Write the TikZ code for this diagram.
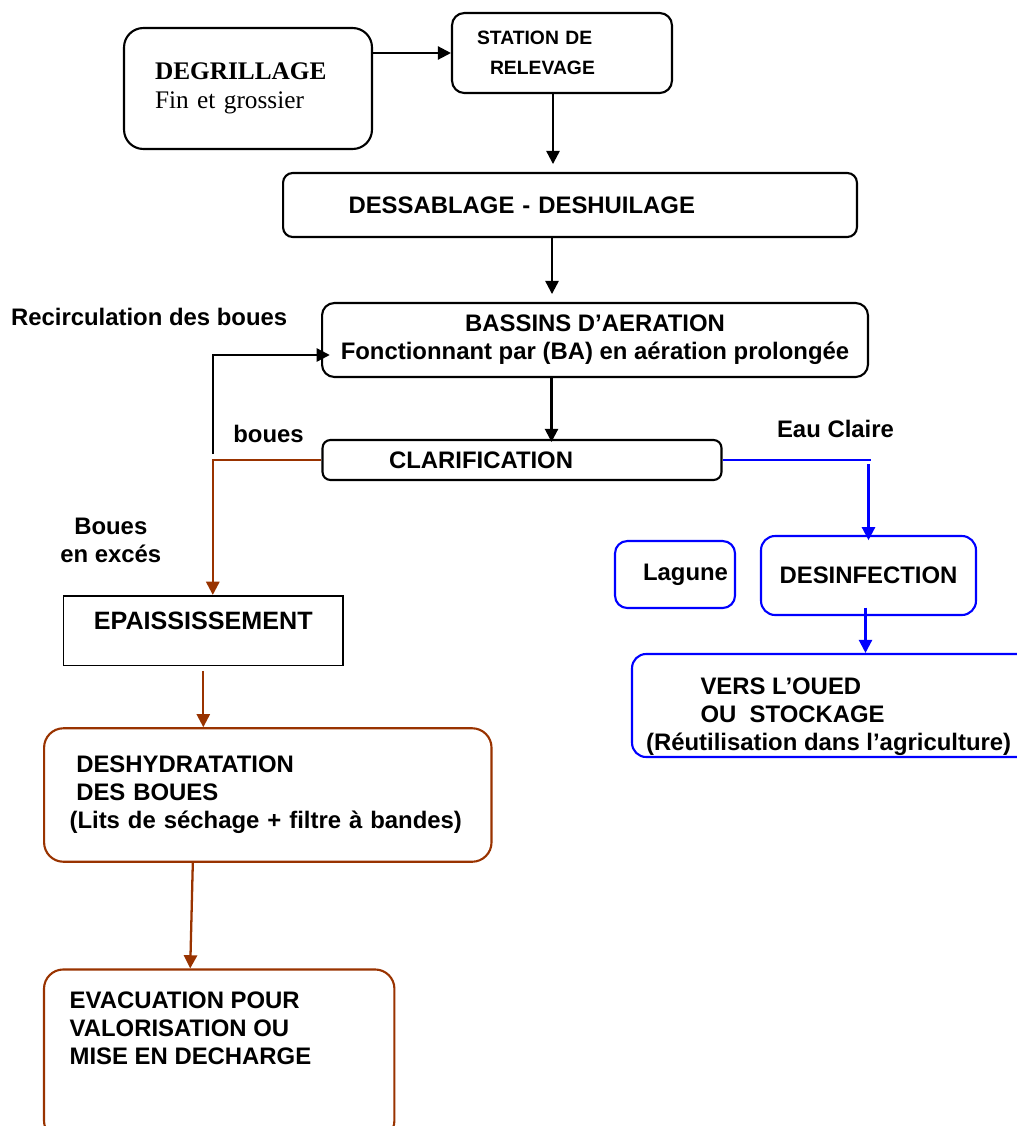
\documentclass[tikz,border=0pt]{standalone}
\usepackage{fontspec}
\setmainfont{Liberation Sans}
\newfontfamily\timesfont{Liberation Serif}
\usetikzlibrary{positioning,calc,arrows.meta}
\definecolor{boue}{RGB}{153,51,0}
\definecolor{eau}{RGB}{0,0,255}

\begin{document}
\begin{tikzpicture}[
x=0.02cm, y=-0.02cm,
txt/.style={
  font=\bfseries\fontsize{13.6}{16}\selectfont
  },
box/.style={
  txt,
  draw,
  line width=1.2pt,
  rounded corners=7pt,
  inner ysep=0pt
  },
tag/.style={
  txt,
  inner sep=0pt
  },
arr/.style={
  ->,
  line width=1.3pt
  },
>={Triangle[length=7.5pt,width=7.5pt]}
]
\useasboundingbox (0,0) rectangle (1017,1126);
\clip (0,0) rectangle (1017,1126);

% filiere eau
\node[box, rounded corners=11pt, minimum width=4.96cm, minimum height=2.42cm,
  inner xsep=0.62cm, text width=3.72cm, align=left,
  font=\timesfont\fontsize{14.4}{16.4}\selectfont] (degr) at (248,88.5)
  {\textbf{DEGRILLAGE}\\Fin et grossier};
\node[box, minimum width=4.4cm, minimum height=1.6cm, inner xsep=0.5cm,
  text width=3.4cm, align=left, font=\bfseries\fontsize{11}{17}\selectfont] (stat) at (562,53)
  {STATION DE\\\hspace*{7.4pt}RELEVAGE};
\node[box, rounded corners=5.5pt, minimum width=11.48cm, minimum height=1.28cm,
  inner xsep=1.31cm, text width=8.86cm, align=left] (dess) at (570,205)
  {DESSABLAGE - DESHUILAGE};
\node[box, minimum width=10.92cm, minimum height=1.48cm, align=center] (bass) at (595,340)
  {BASSINS D’AERATION\\Fonctionnant par (BA) en aération prolongée};
\node[box, rounded corners=4.5pt, minimum width=7.98cm, minimum height=0.8cm,
  inner xsep=1.33cm, text width=5.32cm, align=left] (clar) at (522,460)
  {CLARIFICATION};

% filiere boues
\node[box, sharp corners, line width=0.9pt, minimum width=5.6cm, minimum height=1.4cm,
  text depth=11pt, font=\bfseries\fontsize{14.3}{16}\selectfont] (epai) at (203.3,630.7)
  {EPAISSISSEMENT};
\node[box, draw=boue, rounded corners=11pt, minimum width=8.95cm, minimum height=2.67cm,
  inner xsep=0.51cm, text width=7.93cm, align=left] (desh) at (267.8,795)
  {\hspace*{3.8pt}DESHYDRATATION\\\hspace*{3.8pt}DES BOUES\\(Lits de séchage + filtre à bandes)};
\node[box, draw=boue, rounded corners=11pt, minimum width=7.01cm, minimum height=3.41cm]
  (evac) at (219.2,1054.7) {};
\node[tag, anchor=north west, align=left] (evactxt) at (69.3,991.7)
  {EVACUATION POUR\\VALORISATION OU\\MISE EN DECHARGE};

% eau claire
\node[box, draw=eau, minimum width=2.4cm, minimum height=1.34cm,
  inner xsep=0.14cm, text width=2.12cm, align=right] (lag) at (675,574.5) {Lagune};
\node[box, draw=eau, rounded corners=8pt, minimum width=4.3cm, minimum height=1.58cm]
  (desi) at (868.5,575.5) {DESINFECTION};
\node[box, draw=eau, rounded corners=8pt, minimum width=8cm, minimum height=2.06cm]
  (vers) at (832,705.5) {};
\node[tag, anchor=north west, align=left] (verstxt) at (645.7,677.7)
  {\hspace*{31pt}VERS L’OUED\\\hspace*{31pt}OU\ \ STOCKAGE\\(Réutilisation dans l’agriculture)};

% textes libres
\node[tag, anchor=base west] (recirc) at (10.7,325.7) {Recirculation des boues};
\node[tag, anchor=base west] (bouestxt) at (233,442.7) {boues};
\node[tag, anchor=base west] (eauclaire) at (776.7,437) {Eau Claire};
\node[tag, anchor=north, align=center] (exces) at (110.8,518) {Boues\\en excés};
\coordinate (rc) at (213,454);

% liaisons
\draw[arr] (degr.east |- stat.west) -- (stat.west);
\draw[arr, shorten >=4.5pt] ([xshift=-0.18cm]stat.south) -- ([xshift=-0.18cm]stat.south |- dess.north);
\draw[arr, shorten >=4.5pt] ([xshift=-0.36cm]dess.south) -- ([xshift=-0.36cm]dess.south |- bass.north);
\draw[arr, shorten >=-1.7pt] ([xshift=-0.87cm]bass.south) -- ([xshift=-0.87cm]bass.south |- clar.north);
\draw[arr, shorten >=-5pt] (rc) |- ([yshift=-0.3cm]bass.west);
\draw[arr, draw=boue] (clar.west) -| ([xshift=0.19cm]epai.north);
\draw[arr, draw=boue, shorten <=2.5pt] (epai.south) -- (epai.south |- desh.north);
\draw[arr, draw=boue] ([xshift=-1.5cm]desh.south) -- ([xshift=-0.58cm]evac.north);
\draw[line width=1.3pt, draw=eau] (clar.east) -- ([xshift=0.04cm]clar.east -| desi.north);
\draw[arr, draw=eau, shorten >=-3pt] ([yshift=-0.08cm]clar.east -| desi.north) -- (desi.north);
\draw[arr, draw=eau] ([xshift=-0.06cm,yshift=0.17cm]desi.south) -- ([xshift=-0.06cm]desi.south |- vers.north);
\end{tikzpicture}
\end{document}
